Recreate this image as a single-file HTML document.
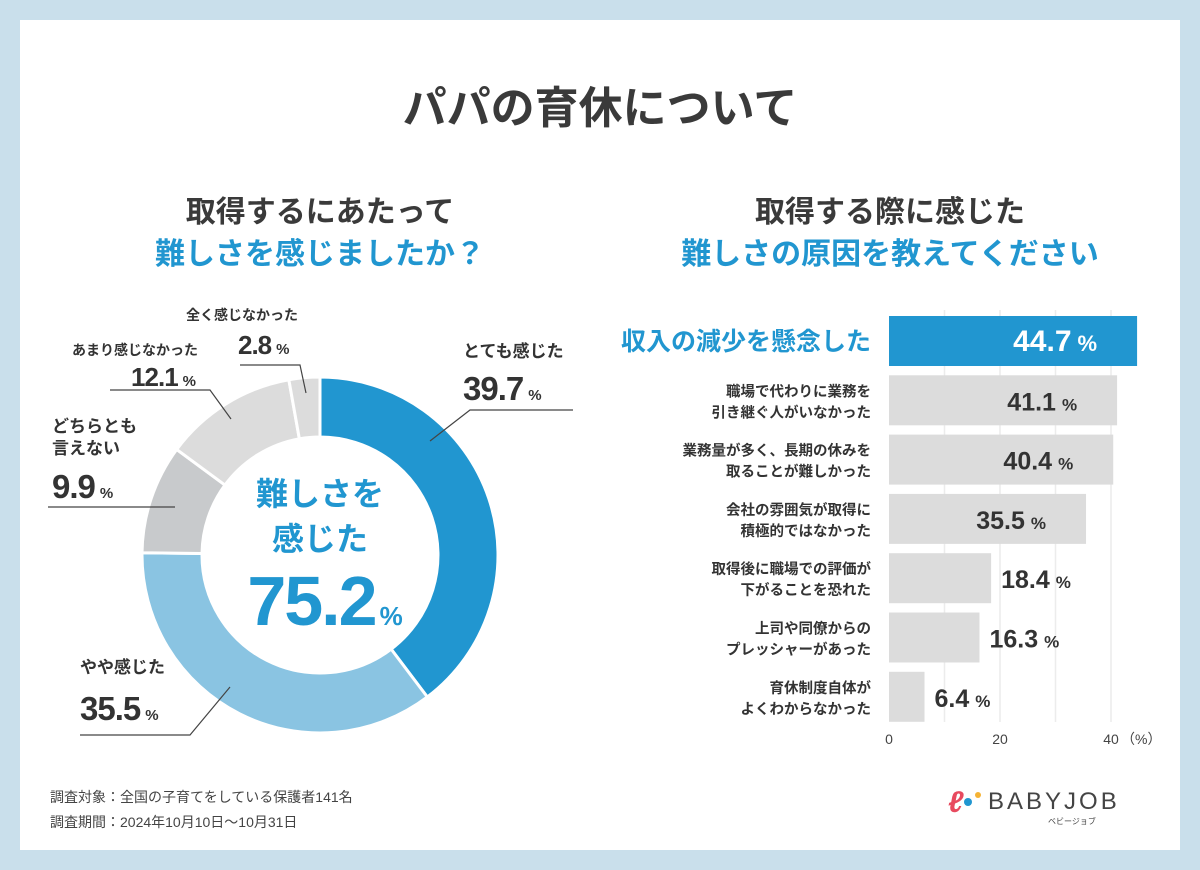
<!DOCTYPE html>
<html><head><meta charset="utf-8">
<style>
html,body{margin:0;padding:0;}
body{width:1200px;height:870px;background:#c9dfeb;font-family:"Liberation Sans","Noto Sans CJK JP",sans-serif;position:relative;overflow:hidden;color:#333;}
.card{position:absolute;left:20px;top:20px;width:1160px;height:830px;background:#fff;}
.t{position:absolute;white-space:nowrap;font-weight:bold;}
</style></head><body>
<div class="card"></div>
<div class="t" style="left:0;width:1200px;text-align:center;top:72px;font-size:44px;color:#3a3a3a;">パパの育休について</div>
<div class="t" style="left:20px;width:600px;text-align:center;top:192px;font-size:30px;line-height:42px;color:#3a3a3a;">取得するにあたって<br><span style="color:#2196d0">難しさを感じましたか？</span></div>
<div class="t" style="left:590px;width:600px;text-align:center;top:192px;font-size:30px;line-height:42px;color:#3a3a3a;">取得する際に感じた<br><span style="color:#2196d0">難しさの原因を教えてください</span></div>

<svg id="donut" width="1200" height="870" style="position:absolute;left:0;top:0"></svg>
<svg id="bars" width="1200" height="870" style="position:absolute;left:0;top:0"></svg>

<div class="t" style="left:50px;top:787px;font-size:14px;font-weight:normal;color:#444;">調査対象：全国の子育てをしている保護者141名</div>
<div class="t" style="left:50px;top:812px;font-size:14px;font-weight:normal;color:#444;">調査期間：2024年10月10日〜10月31日</div>
<div style="position:absolute;left:948px;top:786px;width:200px;height:40px;">
 <span style="position:absolute;left:0;top:0;font-size:30px;color:#e84a5f;font-style:italic;font-weight:bold;">ℓ</span>
 <span style="position:absolute;left:16px;top:12px;width:8px;height:8px;border-radius:4px;background:#2196d0;"></span>
 <span style="position:absolute;left:27px;top:6px;width:6px;height:6px;border-radius:3px;background:#f5b335;"></span>
 <span class="t" style="left:40px;top:2px;font-size:24px;letter-spacing:3px;color:#444;font-weight:normal;">BABYJOB</span>
 <span class="t" style="left:100px;top:30px;font-size:8px;color:#444;font-weight:normal;">ベビージョブ</span>
</div>

<script>
const NS="http://www.w3.org/2000/svg";
function mk(parent,tag,attrs,text){const e=document.createElementNS(NS,tag);for(const k in attrs)e.setAttribute(k,attrs[k]);if(text!==undefined)e.textContent=text;parent.appendChild(e);return e;}

// ---- donut data ----
const donutLabels=["とても感じた","やや感じた","どちらとも言えない","あまり感じなかった","全く感じなかった"];
const donutValues=[39.7,35.5,9.9,12.1,2.8];
const donutColors=["#2196d0","#8ac4e2","#c8cacc","#dcdcdc","#dcdcdc"];
const cx=320,cy=555,R=178,r=118;
const d=document.getElementById('donut');
const total=donutValues.reduce((a,b)=>a+b,0);
let acc=0;
function pt(rad,frac){const a=frac*2*Math.PI-Math.PI/2;return [cx+rad*Math.cos(a),cy+rad*Math.sin(a)];}
donutValues.forEach((v,i)=>{
  const f0=acc/total,f1=(acc+v)/total;acc+=v;
  const [x0,y0]=pt(R,f0),[x1,y1]=pt(R,f1),[x2,y2]=pt(r,f1),[x3,y3]=pt(r,f0);
  const lg=(f1-f0)>0.5?1:0;
  const p=mk(d,'path',{d:`M${x0},${y0}A${R},${R} 0 ${lg} 1 ${x1},${y1}L${x2},${y2}A${r},${r} 0 ${lg} 0 ${x3},${y3}Z`,fill:donutColors[i],stroke:'#fff','stroke-width':3});
  
  
});
// leader lines
[["M430,441L470,410L573,410"],["M230,687L190,735L80,735"],["M175,507L48,507"],["M231,419L210,390L110,390"],["M306,393L300,365L240,365"]].forEach((s,i)=>{
  const l=mk(d,'path',{d:s[0],fill:'none',stroke:'#444','stroke-width':1.2});
  
  
});
// labels
const lblPos=[[463,357,463,400,33,'start'],[80,673,80,720,33,'start'],[52,432,52,498,33,'start'],[190,355,195,386,26,'end'],[243,320,238,354,26,'start']];
donutLabels.forEach((t,i)=>{
  const [lx,ly,vx,vy,fs,anc]=lblPos[i];
  if(i===2){
    const a=mk(d,'text',{x:lx,y:ly,'font-size':17,'font-weight':'bold',fill:'#333'},'どちらとも');
    
    const b=mk(d,'text',{x:lx,y:ly+22,'font-size':17,'font-weight':'bold',fill:'#333'},'言えない');
    
  } else {
    const a=mk(d,'text',{x:i===3?72:(i===4?186:lx),y:ly,'font-size':i>=3?14:17,'font-weight':'bold',fill:'#333'},t);
    
  }
  const tx=mk(d,'text',{x:vx,y:vy,'font-size':fs,'font-weight':'bold',fill:'#333','text-anchor':anc,'letter-spacing':-1});
  
  
  mk(tx,'tspan',{},donutValues[i].toFixed(1));
  mk(tx,'tspan',{'font-size':15,dx:5},'%');
});
// center
[["難しさを",505,32],["感じた",550,32]].forEach(c=>{
  const e=mk(d,'text',{x:cx,y:c[1],'font-size':c[2],'font-weight':'bold',fill:'#2196d0','text-anchor':'middle'},c[0]);
  
});
const ct=mk(d,'text',{x:cx+4,y:625,'font-size':70,'font-weight':'bold',fill:'#2196d0','text-anchor':'middle','letter-spacing':-2});


mk(ct,'tspan',{},(donutValues[0]+donutValues[1]).toFixed(1));
mk(ct,'tspan',{'font-size':26,dx:4},'%');

// ---- bar data ----
const barLabels=[["収入の減少を懸念した"],["職場で代わりに業務を","引き継ぐ人がいなかった"],["業務量が多く、長期の休みを","取ることが難しかった"],["会社の雰囲気が取得に","積極的ではなかった"],["取得後に職場での評価が","下がることを恐れた"],["上司や同僚からの","プレッシャーがあった"],["育休制度自体が","よくわからなかった"]];
const barValues=[44.7,41.1,40.4,35.5,18.4,16.3,6.4];
const xTicks=[0,20,40];
const b=document.getElementById('bars');
const x0=889,pxPer=5.55,top0=316,step=59.3,bh=50;
const X=v=>x0+v*pxPer;
[10,20,30,40].forEach(v=>{
  const g=mk(b,'line',{x1:X(v),x2:X(v),y1:310,y2:722,stroke:'#ececec','stroke-width':1.5});
  
});
barValues.forEach((v,i)=>{
  const y=top0+i*step;
  const hi=i===0;
  const rc=mk(b,'rect',{x:x0,y:y,width:X(v)-x0,height:bh,fill:hi?'#2196d0':'#dcdcdc'});
  
  
  const inside=v>30;
  const tx=mk(b,'text',{x:inside?X(v)-40:X(v)+10,y:y+bh/2+10,'font-size':hi?30:25,'font-weight':'bold',fill:hi?'#fff':'#333','text-anchor':inside?'end':'start'});
  
  
  mk(tx,'tspan',{},v.toFixed(1));
  mk(tx,'tspan',{'font-size':hi?22:17,dx:6},'%');
  const lb=barLabels[i];
  if(hi){
    const t=mk(b,'text',{x:871,y:y+bh/2+9,'font-size':25,'font-weight':'bold',fill:'#2196d0','text-anchor':'end'},lb[0]);
    
  } else lb.forEach((s,j)=>{
    const t=mk(b,'text',{x:871,y:y+21+j*21,'font-size':14.5,'font-weight':'bold',fill:'#333','text-anchor':'end'},s);
    
  });
});
xTicks.forEach(v=>{
  const t=mk(b,'text',{x:X(v),y:744,'font-size':14,fill:'#444','text-anchor':'middle'},String(v));
  
});
const u=mk(b,'text',{x:X(40)+10,y:744,'font-size':14,fill:'#444'},'（%）');

</script>
</body></html>
